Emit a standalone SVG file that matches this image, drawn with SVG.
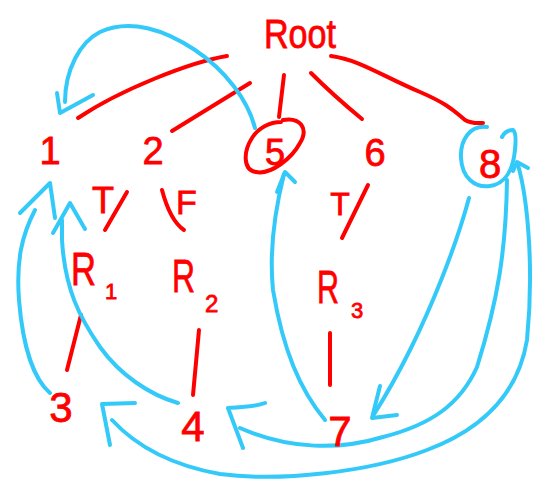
<svg xmlns="http://www.w3.org/2000/svg" width="533" height="480" viewBox="0 0 533 480">
<style>
.t{font-family:"Liberation Sans",Arial,sans-serif;fill:#ff0000;stroke:#ff0000;stroke-width:0.8;}
.r{fill:none;stroke:#ff0000;stroke-width:4;stroke-linecap:round;stroke-linejoin:round;}
.b{fill:none;stroke:#33c9f9;stroke-width:4;stroke-linecap:round;stroke-linejoin:round;}
</style>
<rect width="533" height="480" fill="#ffffff"/>
<g id="connectors">
  <path class="r" d="M227,56 C190,62 120,90 78,118"/>
  <path class="r" d="M250,83 L172,131"/>
  <path class="r" d="M284,75 L279,117"/>
  <path class="r" d="M311,73 C330,92 345,105 362,119"/>
  <path class="r" d="M331,56 C360,60 380,75 420,92 C450,105 455,112 465,120 C472,124 478,123 483,123"/>
  <path class="r" d="M127,192 L105,230"/>
  <path class="r" d="M162,190 C166,205 172,222 184,230"/>
  <path class="r" d="M368,185 L342,238"/>
  <path class="r" d="M81,315 L67,370"/>
  <path class="r" d="M199,330 L193,395"/>
  <path class="r" d="M330,333 L330,385"/>
  <path class="b" d="M255,128 C248,100 225,70 195,50 C165,30 130,18 100,32 C80,42 65,70 65,102"/>
  <path class="b" d="M57,93 L60,113 L93,95"/>
  <path class="b" d="M50,393 C35,380 23,350 19,300 C16,260 22,235 35,210"/>
  <path class="b" d="M20,213 L50,183 L55,218"/>
  <path class="b" d="M178,403 C150,395 120,375 100,347 C80,318 65,290 62,240 L62,220"/>
  <path class="b" d="M53,233 L70,203 L85,229"/>
  <path class="b" d="M325,420 C300,390 283,350 273,290 C269,250 275,210 284,174"/>
  <path class="b" d="M277,192 L285,172 L295,182"/>
  <path class="b" d="M469,198 C455,250 430,310 410,350 C395,380 383,400 373,416"/>
  <path class="b" d="M380,386 L372,418 L397,415"/>
  <path class="b" d="M507,180 C506,250 498,300 477,367 C460,405 430,425 383,437 C340,450 290,450 240,428"/>
  <path class="b" d="M265,403 C255,407 240,407 228,408 L243,448"/>
  <path class="b" d="M518,165 C528,200 534,270 527,340 C518,395 480,430 427,450 C370,472 280,482 220,474 C170,465 135,445 112,420"/>
  <path class="b" d="M135,403 L102,404 L110,445"/>
  <path class="b" d="M513,171 L517,162 L528,168"/>
</g>
<g id="node-root"><text class="t" x="264" y="48" font-size="40" textLength="72" lengthAdjust="spacingAndGlyphs">Root</text></g>
<g id="node-1"><text class="t" x="50" y="164" font-size="38" text-anchor="middle">1</text></g>
<g id="node-2"><text class="t" x="153" y="164" font-size="38" text-anchor="middle">2</text></g>
<g id="node-5">
  <path class="r" d="M283,120 C300,117 309,128 300,143 C292,158 271,175 256,172 C243,170 243,152 252,138 C258,128 270,122 281,122"/>
  <text class="t" x="275" y="165" font-size="36" text-anchor="middle">5</text>
</g>
<g id="node-6"><text class="t" x="375" y="166" font-size="38" text-anchor="middle">6</text></g>
<g id="node-8">
  <path class="b" d="M487,127 C470,125 460,140 461,158 C462,178 475,188 490,186 C505,184 513,170 515,150 C516,140 516,132 513,130 C508,130 504,133 502,137"/>
  <text class="t" x="490" y="178" font-size="40" text-anchor="middle">8</text>
</g>
<g id="label-t1"><text class="t" x="103" y="213" font-size="36" text-anchor="middle">T</text></g>
<g id="label-f"><text class="t" x="176" y="214" font-size="34">F</text></g>
<g id="label-t2"><text class="t" x="340" y="215" font-size="32" text-anchor="middle">T</text></g>
<g id="node-r1"><text class="t" x="71" y="285" font-size="46" textLength="25" lengthAdjust="spacingAndGlyphs">R</text><text class="t" x="105" y="299" font-size="22">1</text></g>
<g id="node-r2"><text class="t" x="172" y="292" font-size="46" textLength="23" lengthAdjust="spacingAndGlyphs">R</text><text class="t" x="205" y="312" font-size="24">2</text></g>
<g id="node-r3"><text class="t" x="317" y="303" font-size="46" textLength="22" lengthAdjust="spacingAndGlyphs">R</text><text class="t" x="351" y="318" font-size="22">3</text></g>
<g id="node-3"><text class="t" x="61" y="422" font-size="42" text-anchor="middle">3</text></g>
<g id="node-4"><text class="t" x="193" y="441" font-size="42" text-anchor="middle">4</text></g>
<g id="node-7"><text class="t" x="340" y="446" font-size="42" text-anchor="middle">7</text></g>
</svg>
